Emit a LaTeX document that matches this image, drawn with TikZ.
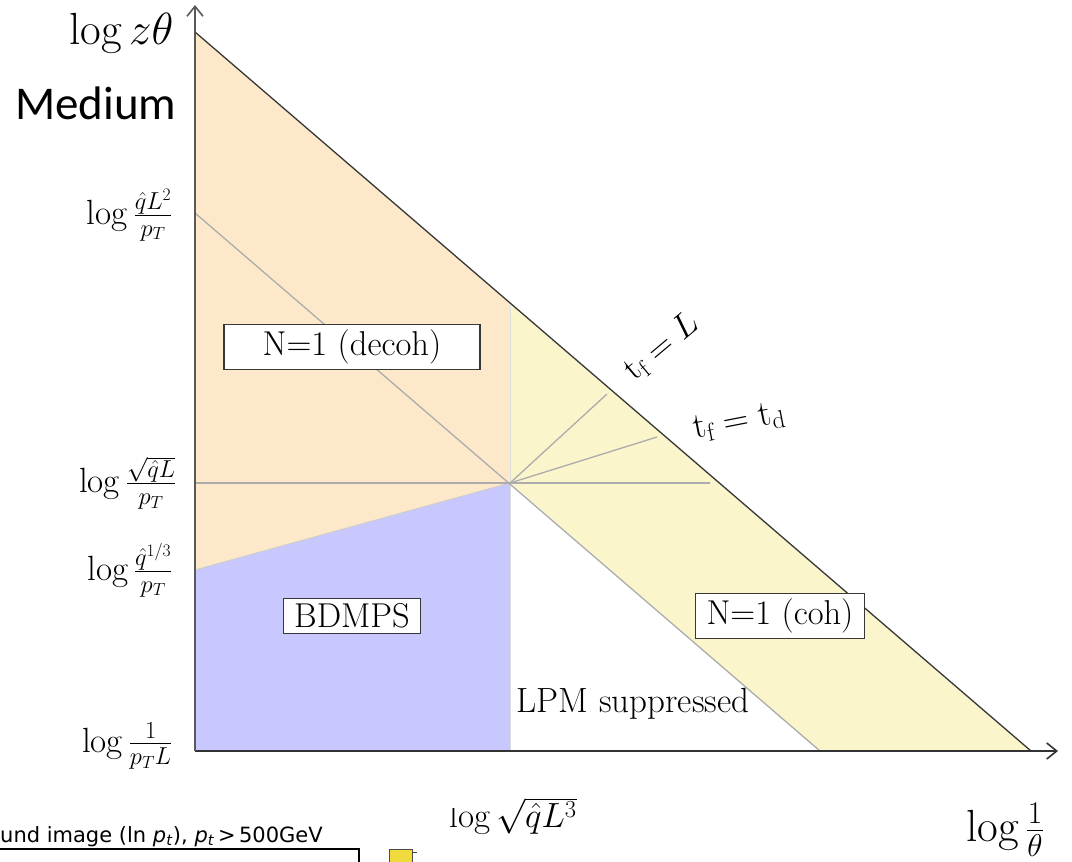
\RequirePackage{fix-cm}
\documentclass[tikz,border=0pt]{standalone}
\usepackage{amsmath}
\usepackage{fontspec}
\usepackage{tikz}
\usetikzlibrary{arrows.meta}
\usepackage{xcolor}
\newfontfamily\calfont{Carlito}
\newfontfamily\mplfont{DejaVu Sans}
\definecolor{decoh}{RGB}{253,233,202}
\definecolor{cohband}{RGB}{250,245,202}
\definecolor{bdmps}{RGB}{200,200,255}
\definecolor{guide}{RGB}{172,172,172}
\definecolor{edge}{RGB}{55,55,55}

\begin{document}
\begin{tikzpicture}[x=1pt, y=-1pt,
  every node/.style={font=\fontsize{34.5}{40}\selectfont},
  regionbox/.style={draw=edge, fill=white, line width=1.3, inner xsep=11, inner ysep=5},
  guideline/.style={guide, line width=1.3},
  ticklabel/.style={anchor=east, font=\fontsize{35}{40}\selectfont},
  axislabel/.style={font=\fontsize{45}{50}\selectfont}]
  \useasboundingbox (0,0) rectangle (1072,862);

  % corners of the phase space
  \coordinate (O) at (195,751);
  \coordinate (ytop) at (195,32);
  \coordinate (ytip) at (195,5);
  \coordinate (xend) at (1031,751);
  \coordinate (xtip) at (1058,751);
  \coordinate (Lq) at (195,213);
  \coordinate (Lh) at (195,483);
  \coordinate (Q3) at (195,570);
  \coordinate (C) at (510,483);
  \coordinate (Cup) at (510,303);
  \coordinate (Cdn) at (510,751);
  \coordinate (Lend) at (820,751);
  \coordinate (hend) at (710,483);
  \coordinate (rayL) at (607,394);
  \coordinate (rayd) at (657,437);

  % regions
  \fill[decoh] (ytop) -- (Cup) -- (C) -- (Q3) -- cycle;
  \fill[bdmps] (Q3) -- (C) -- (Cdn) -- (O) -- cycle;
  \fill[cohband] (Cup) -- (xend) -- (Lend) -- (C) -- cycle;

  % guide lines
  \draw[guide!60, line width=1] (Q3) -- (C) -- (Cdn);
  \draw[guide!40, line width=1] (Cup) -- (C);
  \draw[guideline] (Lq) -- (Lend);
  \draw[guideline] (Lh) -- (hend);
  \draw[guideline] (C) -- (rayL);
  \draw[guideline] (C) -- (rayd);

  % axes and t_f = L
  \draw[edge, line width=1.3] (ytop) -- (xend);
  \draw[black!80, line width=1.6, -{Straight Barb[length=10pt, width=16pt]}] (O) -- (xtip);
  \draw[black!65, line width=1.6, -{Straight Barb[length=10pt, width=16pt]}] (O) -- (ytip);

  % axis labels
  \node[axislabel, anchor=east] (ylab) at (177,33) {$\log z\theta$};
  \node[font=\calfont\fontsize{47}{52}\selectfont, anchor=east] (medium) at (180,103) {Medium};
  \node[ticklabel] (tq2) at (176,215) {$\log\frac{\hat{q}L^2}{p_T}$};
  \node[ticklabel] (tqh) at (180,483) {$\log\frac{\sqrt{\hat{q}L}}{p_T}$};
  \node[ticklabel] (tq3) at (176,570) {$\log\frac{\hat{q}^{1/3}}{p_T}$};
  \node[ticklabel] (tq1) at (176,746) {$\log\frac{1}{p_T L}$};
  \node[axislabel] (xlab) at (1005,830) {$\log\frac{1}{\theta}$};
  \begin{scope}
    \clip (400,808) -- (488,808) -- (488,790) -- (620,790) -- (620,850) -- (400,850) -- cycle;
    \node[font=\fontsize{35}{40}\selectfont] (tqL3) at (513,816) {$\log\sqrt{\hat{q}L^3}$};
  \end{scope}

  % region labels
  \node[regionbox, minimum width=256] (decohlab) at (352,347) {N=1 (decoh)};
  \node[regionbox] (bdmpslab) at (352,616) {BDMPS};
  \node[regionbox] (cohlab) at (780,616) {N=1 (coh)};
  \node[font=\fontsize{35}{40}\selectfont] (lpmlab) at (633,704) {LPM suppressed};
  \node[rotate=40] (tflab) at (662,347) {$\mathrm{t_f} = L$};
  \node[rotate=11, font=\fontsize{36}{40}\selectfont] (tdlab) at (739,422) {$\mathrm{t_f = t_d}$};

  % piece of the next figure
  \node[font=\mplfont\fontsize{21}{24}\selectfont, anchor=base west, inner sep=0] (bgcap) at (0,842)
    {und image (ln \textit{p}\textsubscript{\textit{t}}), \textit{p}\textsubscript{\textit{t}}\,>\,500GeV};
  \draw[line width=1.2] (0,849) -- (359,849) -- (359,864);
  \draw[fill={rgb,255:red,240;green,218;blue,60}, draw=black!70] (389,849) rectangle (412,866);
  \draw[black!70] (412,852) -- (417,852);
\end{tikzpicture}
\end{document}
